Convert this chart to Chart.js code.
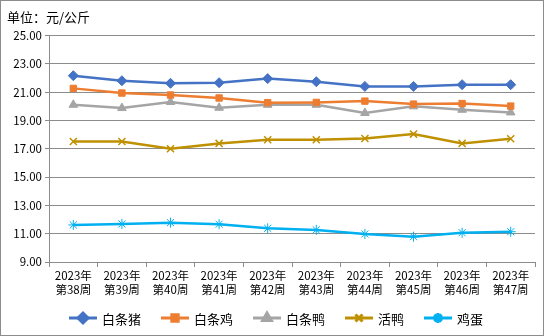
<!DOCTYPE html>
<html>
<head>
<meta charset="utf-8">
<script src="https://cdn.jsdelivr.net/npm/chart.js@4.4.0/dist/chart.umd.min.js"></script>
<style>
  html, body { margin: 0; padding: 0; background: #fff; }
  #wrap {
    width: 544px; height: 336px; box-sizing: border-box;
    border: 1px solid #8c8c8c; background: #fff;
  }
  canvas { display: block; }
</style>
</head>
<body>
<div id="wrap"><canvas id="chart" width="542" height="334"></canvas></div>
<script>
// Data
const weeks = ['第38周', '第39周', '第40周', '第41周', '第42周', '第43周', '第44周', '第45周', '第46周', '第47周'];
const yearLabel = '2023年';
const pork = [22.17, 21.81, 21.63, 21.67, 21.96, 21.74, 21.41, 21.41, 21.53, 21.53];
const chicken = [21.27, 20.94, 20.80, 20.59, 20.26, 20.28, 20.37, 20.16, 20.20, 20.02];
const duck = [20.11, 19.88, 20.31, 19.90, 20.11, 20.11, 19.53, 20.00, 19.76, 19.57];
const liveDuck = [17.52, 17.52, 17.00, 17.38, 17.64, 17.64, 17.73, 18.04, 17.38, 17.71];
const eggs = [11.62, 11.69, 11.78, 11.67, 11.38, 11.27, 10.98, 10.79, 11.07, 11.14];
const seriesNames = ['白条猪', '白条鸡', '白条鸭', '活鸭', '鸡蛋'];
const seriesColors = ['#4472C4', '#ED7D31', '#A5A5A5', '#BF9000', '#00B0F0'];
const seriesMarkers = ['rectRot', 'rect', 'triangle', 'crossRot', 'star'];

const FONT = '"Noto Sans CJK SC", "DejaVu Sans", sans-serif';

const seriesData = [pork, chicken, duck, liveDuck, eggs];
const datasets = seriesData.map((vals, i) => ({
    label: seriesNames[i],
    data: vals,
    borderColor: seriesColors[i],
    backgroundColor: seriesColors[i],
    borderWidth: 2.5,
    pointStyle: seriesMarkers[i],
    pointRadius: seriesMarkers[i] === 'rect' ? 4.5 : 5,
    pointBorderWidth: seriesMarkers[i] === 'crossRot' ? 1.5 : 1,
    tension: 0
}));

// Excel-like legend: line with marker, drawn below the axis
const lineLegend = {
    id: 'lineLegend',
    afterDraw(chart) {
        const ctx = chart.ctx;
        const xs = [68, 160, 252, 344, 423];
        const y = 317;
        ctx.save();
        chart.data.datasets.forEach((ds, i) => {
            const x = xs[i];
            ctx.strokeStyle = ds.borderColor;
            ctx.lineWidth = 3;
            ctx.beginPath();
            ctx.moveTo(x, y);
            ctx.lineTo(x + 28, y);
            ctx.stroke();
            ctx.fillStyle = ds.backgroundColor;
            ctx.strokeStyle = ds.borderColor;
            Chart.helpers.drawPoint(ctx, {
                pointStyle: ds.pointStyle,
                radius: ds.pointRadius,
                rotation: 0,
                borderWidth: ds.pointBorderWidth
            }, x + 14, y);
            ctx.fillStyle = '#000';
            ctx.font = '13px ' + FONT;
            ctx.textBaseline = 'middle';
            ctx.textAlign = 'left';
            ctx.fillText(ds.label, x + 33, y + 1);
        });
        ctx.restore();
    }
};

new Chart(document.getElementById('chart'), {
    type: 'line',
    data: {
        labels: weeks.map(w => [yearLabel, w]),
        datasets: datasets
    },
    options: {
        responsive: false,
        animation: false,
        layout: { padding: { left: 6, right: 8, top: 0, bottom: 0 } },
        plugins: {
            legend: { display: false },
            tooltip: { enabled: false },
            title: {
                display: true,
                text: '单位：元/公斤',
                align: 'start',
                color: '#000',
                font: { family: FONT, size: 13, weight: 'normal' },
                padding: { top: 8, bottom: 11 }
            }
        },
        scales: {
            x: {
                offset: true,
                grid: {
                    offset: true,
                    drawOnChartArea: false,
                    drawTicks: true,
                    tickLength: 5,
                    color: '#8c8c8c'
                },
                border: { color: '#8c8c8c', width: 1 },
                ticks: {
                    color: '#000',
                    font: { family: FONT, size: 11.5 },
                    maxRotation: 0,
                    autoSkip: false,
                    padding: 2
                },
                afterFit(scale) { scale.height = 73; }
            },
            y: {
                min: 9,
                max: 25,
                grid: {
                    color: '#8c8c8c',
                    drawTicks: true,
                    tickLength: 4
                },
                border: { color: '#8c8c8c', width: 1 },
                ticks: {
                    stepSize: 2,
                    color: '#000',
                    font: { family: FONT, size: 11.5 },
                    padding: 3,
                    callback: v => v.toFixed(2)
                },
                afterFit(scale) { scale.width = 42; }
            }
        }
    },
    plugins: [lineLegend]
});
</script>
</body>
</html>
